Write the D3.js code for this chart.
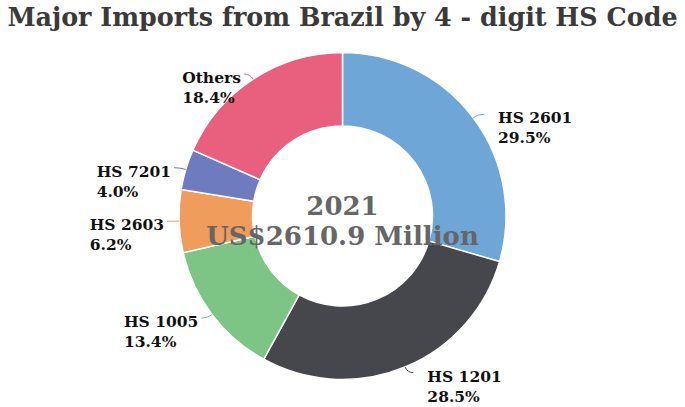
<!DOCTYPE html>
<html><head><meta charset="utf-8">
<script src="https://cdn.jsdelivr.net/npm/d3@7"></script>
<style>
html,body{margin:0;padding:0;background:#fff;}
svg{display:block;}
</style></head>
<body>
<svg id="chart" width="685" height="407"></svg>
<script>
const title = "Major Imports from Brazil by 4 - digit HS Code";
const categories = ["HS 2601", "HS 1201", "HS 1005", "HS 2603", "HS 7201", "Others"];
const shares = [29.5, 28.5, 13.4, 6.2, 4.0, 18.4];
const centerYear = "2021";
const centerTotal = "US$2610.9 Million";
const palette = ["#6fa6d8", "#46474d", "#7cc585", "#ef9c5c", "#6e7bbf", "#e8607e"];

const W = 685, H = 407;
const cx = 342.5, cy = 216, R = 163.5, r0 = 90;
const font = "'DejaVu Serif', serif";

const svg = d3.select("#chart");

svg.append("text")
  .attr("x", W / 2).attr("y", 26)
  .attr("text-anchor", "middle")
  .attr("font-family", font).attr("font-weight", "bold")
  .attr("font-size", 25.4).attr("fill", "#3a3a3a")
  .text(title);

const color = d3.scaleOrdinal().domain(categories).range(palette);
const data = categories.map((c, i) => ({ cat: c, val: shares[i] }));
const pie = d3.pie().sort(null).value(d => d.val);
const arcs = pie(data);
const arc = d3.arc().innerRadius(r0).outerRadius(R);

const g = svg.append("g").attr("transform", `translate(${cx},${cy})`);

g.selectAll("path.slice").data(arcs).enter().append("path")
  .attr("class", "slice")
  .attr("d", arc)
  .attr("fill", d => color(d.data.cat))
  .attr("stroke", "#fff").attr("stroke-width", 1.5);

function pt(a, rad) { return [Math.sin(a) * rad, -Math.cos(a) * rad]; }

arcs.forEach(d => {
  const a = (d.startAngle + d.endAngle) / 2;
  const side = Math.sin(a) >= 0 ? 1 : -1;
  const p0 = pt(a, R);
  const p1 = pt(a, R + 6);
  const p2 = [p1[0] + side * 6, p1[1]];
  g.append("path")
    .attr("d", `M${p0[0]},${p0[1]} Q${p1[0]},${p1[1]} ${p2[0]},${p2[1]}`)
    .attr("fill", "none")
    .attr("stroke", color(d.data.cat)).attr("stroke-width", 1);

  const t = g.append("text")
    .attr("font-family", font).attr("font-weight", "bold")
    .attr("font-size", 15.5).attr("fill", "#111");
  const l1 = t.append("tspan").text(d.data.cat);
  const l2 = t.append("tspan").text(d3.format(".1f")(d.data.val) + "%");
  const w = Math.max(l1.node().getComputedTextLength(), l2.node().getComputedTextLength());
  const x = side > 0 ? p2[0] + 14 : p2[0] - 3 - w;
  const y = p2[1] + 9;
  l1.attr("x", x).attr("y", y);
  l2.attr("x", x).attr("y", y + 20);
});

const ct = svg.append("g")
  .attr("font-family", font).attr("font-weight", "bold")
  .attr("font-size", 26).attr("fill", "#666").attr("text-anchor", "middle");
ct.append("text").attr("x", cx).attr("y", 215).text(centerYear);
ct.append("text").attr("x", cx).attr("y", 245).text(centerTotal);
</script>
</body></html>
